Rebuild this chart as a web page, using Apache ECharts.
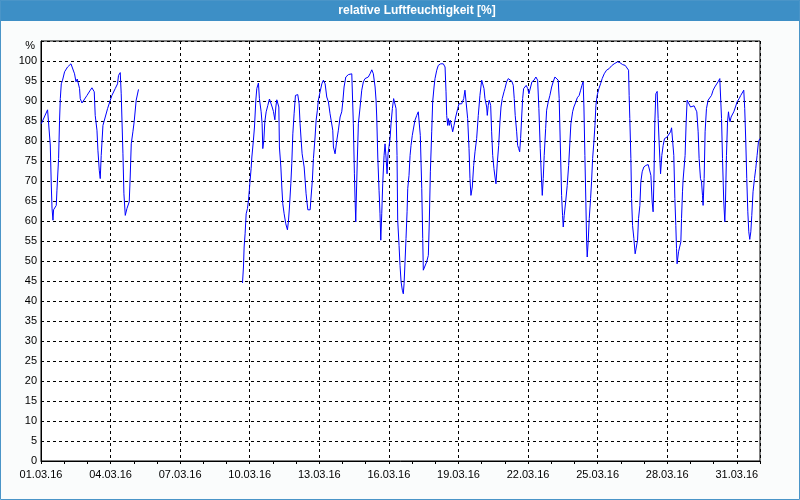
<!DOCTYPE html>
<html><head><meta charset="utf-8">
<script src="https://cdn.jsdelivr.net/npm/echarts@6/dist/echarts.min.js"></script>
<style>html,body{margin:0;padding:0;background:#fafcfc;}#c{width:800px;height:500px;}</style>
</head><body><div id="c"></div>
<script>
const titleText = 'relative Luftfeuchtigkeit [%]';
const unitLabel = '%';
const monthSuffix = '.03.16';
// hours since 01.03.16 00:00
const hours = [
0.3,6.8,8.6,9.6,10.7,11.4,12.4,13.0,15.8,16.5,18.2,19.2,20.0,21.0,22.3,24.4,27.5,31.0,32.7,34.7,36.2,37.5,38.9,39.9,40.6,42.4,44.0,47.6,51.0,52.7,55.1,56.1,57.9,58.9,60.3,61.3,62.3,64.1,66.5,68.9,71.7,73.4,76.8,79.2,80.2,82.0,83.0,84.8,85.8,87.2,88.9,91.3,92.3,93.4,95.1,96.4,98.5,100.9,
150,
208.5,209.5,210.2,211.2,212.3,213.6,214.7,216.4,217.4,218.2,219.8,220.9,222.3,223.3,225.0,226.0,227.8,228.8,229.5,230.6,231.6,233.0,234.7,236.4,238.4,239.2,240.5,242.0,243.0,244.0,245.1,246.1,246.7,248.2,249.2,250.2,251.6,253.3,255.0,256.0,257.1,258.5,259.5,260.6,261.9,263.3,265.7,267.1,268.1,269.2,270.2,272.3,273.3,274.3,276.1,278.5,279.2,280.8,281.9,283.6,284.7,286.0,287.0,288.8,290.6,292.2,294.0,295.7,297.4,299.1,300.2,301.9,302.6,304.3,306.1,307.7,309.5,311.2,312.3,313.6,315.4,318.1,321.6,322.6,323.2,324.3,325.0,325.7,326.3,327.4,328.4,330.2,331.9,333.6,335.3,337.1,338.7,340.5,342.3,343.9,345.7,346.7,347.4,348.5,349.8,350.8,351.6,352.6,353.6,355.0,356.0,357.0,358.1,359.1,360.1,361.2,362.2,363.6,364.9,366.3,367.4,368.4,369.1,370.5,371.5,372.6,373.9,374.9,375.7,376.7,377.7,378.8,379.5,380.8,381.9,382.9,384.2,385.7,387.0,388.8,390.4,391.5,392.5,394.0,395.0,395.6,397.4,399.1,400.8,401.8,402.9,404.3,405.3,406.7,407.7,409.5,411.1,413.6,416.3,418.1,419.1,419.8,420.8,421.5,422.5,423.5,425.0,426.0,427.4,429.1,431.2,432.5,435.3,437.4,438.7,440.5,441.5,442.9,443.9,444.9,446.3,447.7,449.1,450.8,452.5,454.2,456.0,457.0,458.4,459.4,461.2,461.8,462.8,463.8,465.3,466.3,467.4,468.7,469.8,470.8,472.1,473.6,474.9,476.0,477.3,479.1,480.1,481.8,483.5,485.3,487.3,488.7,489.7,490.7,492.2,493.2,494.3,495.3,496.3,497.4,498.4,499.4,500.8,502.1,503.6,504.9,506.7,508.0,510.1,512.1,513.9,515.2,516.6,518.0,518.7,519.7,520.7,522.2,523.2,524.9,526.6,528.4,530.0,531.8,533.5,535.2,536.2,537.3,538.7,539.7,540.4,541.4,542.9,544.5,546.0,547.3,548.3,550.1,551.4,553.5,554.9,556.9,558.4,559.7,561.0,561.8,562.8,563.8,564.6,565.2,566.2,567.3,568.7,569.7,570.8,572.1,573.2,574.2,575.5,577.3,579.0,580.7,582.8,585.2,587.9,590.4,593.1,596.6,599.0,601.8,604.5,606.5,608.0,608.6,609.3,610.4,611.1,612.1,613.5,614.8,616.3,617.3,618.3,619.7,620.7,622.1,623.8,625.9,628.3,630.0,631.1,632.4,633.4,634.2,635.2,636.2,637.6,638.6,639.6,641.1,642.4,643.8,645.2,646.6,647.9,649.7,651.4,652.5,654.1,654.8,655.9,656.9,657.6,658.2,659.7,661.0,662.1,662.8,663.8,664.4,665.5,666.5,667.6,668.6,670.3,672.1,673.8,675.8,677.6,678.6,680.0,681.0,682.4,683.5,684.5,685.1,686.2,687.2,688.6,690.3,692.1,693.8,695.5,697.2,699.0,700.6,702.4,703.4,704.2,705.2,706.5,707.6,708.3,709.3,710.4,711.4,712.0,713.0,714.1,715.5,716.9,718.6,720.3,722.4,724.1,725.9,727.2,728.2,729.3,730.3,731.4,732.4,733.4,734.5,735.5,736.8,738.3,739.6,741.0,742.4,743.8
];
const humidity = [
84.3,87.8,87.3,79,68.5,63.2,60.2,62.8,63.9,67.7,75.6,85.2,90.6,94.3,95.2,97.3,98.5,99.3,99.2,96.8,94.8,95.5,95.8,93.1,90.6,89.5,89.9,91.4,92.7,93.3,92.3,86.4,82.7,77.7,72.7,70.6,76.4,83.9,86,88.1,90.2,91.4,93.1,94.3,96.4,97.1,91.8,76.8,66.8,61.4,63.1,64.8,71,79.3,82.3,84.8,90.2,92.9,
null,
44.5,48.5,53.5,56.8,61.8,63.1,65.2,70.2,73.1,76,80.2,83.5,90.2,93.1,94.5,90.6,87.3,84.3,78.1,80.2,84.8,87.3,88.9,90.5,90.5,88.5,87.4,85.3,88.5,90.3,90.3,88.5,78.5,73.5,68.5,64.3,61.8,59.3,57.8,59.8,63.5,69.3,74.3,81.8,86.8,91.4,91.6,89.3,84.3,80.2,76.8,73.5,70.2,66.8,62.8,62.8,65.2,70.2,75.6,81,85.2,87.7,90.2,92.3,94.3,95.2,94.3,91,89.8,86.8,85.2,82.7,78.5,76.8,80.2,82.7,86,87.3,89.8,93.5,96,96.6,96.8,96.8,84.3,71.8,65.2,59.8,66,76,84.3,88.5,92.7,94.8,95.6,95.6,96,96.8,97.8,96.8,93.5,90.2,86,76,67.7,61.8,55.2,61.8,69.3,76.4,79.3,76,71.8,76.8,77.3,80.6,84.3,88.1,90.6,90.2,88.1,76.4,60.2,53.9,48.9,44.8,42.7,41.8,44.3,49.8,55.6,62.3,68.1,71.4,76.4,78.9,81.4,83.5,85.2,86.4,87.3,87.7,81.4,68.1,55.6,47.7,48.1,49.8,51.4,59.8,72.3,82.3,89.8,93.5,95.6,97.7,98.9,99.3,99.3,98.5,92.3,86.4,83.9,85.6,83.9,85.2,83.5,82.3,83.9,86,88.1,89.3,89.3,90.6,92.7,92.7,85.6,78.1,70.6,66.4,68.5,73.9,77.3,80.6,86.4,91.4,95.2,94.8,93.1,90.6,88.5,86.4,88.9,90.2,88.9,82.3,76.4,73.1,71,69.3,74.3,78.9,84.8,88.5,90.6,92.3,93.1,94.8,95.6,95.2,94.9,93.9,90.6,86.4,82.3,78.9,78.1,77.3,80.6,86,90.6,93.1,93.1,93.9,93.1,91.8,92.3,94.8,95.2,96,95.2,88.1,78.1,69.8,66.4,70.6,76.4,83.1,87.7,89.8,91.4,93.5,94.8,96,96.3,95.2,90.6,79.8,66.4,61.4,58.5,61.4,64.8,68.9,73.9,79.8,84.3,87.3,88.5,89.8,90.8,91.4,92.7,93.9,94.8,88.5,76.4,64.8,54.8,51,54.8,60.6,65.6,69.8,75.6,79.8,83.9,88.9,91.4,93.1,94.3,95.6,96.8,97.7,98.1,98.8,99.3,99.8,99.6,99.1,98.9,98.5,97.7,91.4,85.6,75.6,65.6,58.9,55.6,51.8,52.3,55.2,60.6,63.9,69.8,72.3,73.5,73.9,74.1,74.3,71.4,64.8,62.3,69.8,84.8,91.8,92.4,85.6,79.8,71.8,76.4,78.9,80.6,81,81,80.8,82.3,83.3,83.1,76.4,65.6,58.9,53.1,49.3,52.3,51.8,54.8,60.6,67.3,70.2,69.8,76.4,84.8,90.2,90.6,88.5,88.9,88.8,89.3,87.3,82.3,75.6,70.6,69.8,66.4,63.9,70.6,82.3,88.1,90.2,90.6,91.4,92.7,93.5,93.9,94.8,95.6,96,85.6,75.6,64.8,59.8,64.8,76.4,84.8,87.3,86,84.8,86,85.6,87.3,88.5,89.8,90.6,91.4,91.8,92.7,88.1,79.8,70.6,62.3,57.3,55.4,57.3,61.4,67.3,70.6,73.1,76.4,79.8,80.6
];

const seriesData = hours.map((h, i) => [h, humidity[i] === null ? '-' : humidity[i]]);
const FONT = 'Liberation Sans';

const chart = echarts.init(document.getElementById('c'), null, {renderer: 'canvas'});
chart.setOption({
  animation: false,
  backgroundColor: '#fafcfc',
  graphic: [
    {type: 'rect', shape: {x: 0, y: 0, width: 800, height: 21}, style: {fill: '#3d8fc6'}, z: 0},
    {type: 'rect', shape: {x: 0.5, y: 0.5, width: 799, height: 499}, style: {fill: null, stroke: '#4a95c8', lineWidth: 1}, z: 0},
    {type: 'text', x: 417, y: 11, style: {text: titleText, fill: '#ffffff', font: 'bold 12px "Liberation Sans"', textAlign: 'center', textVerticalAlign: 'middle'}, z: 10}
  ],
  grid: {left: 41, right: 40, top: 41, bottom: 39, show: true, backgroundColor: '#ffffff', borderColor: '#000000', borderWidth: 1},
  xAxis: {
    type: 'value', min: 0, max: 744, interval: 72,
    axisLine: {show: true, lineStyle: {color: '#000', width: 1}},
    axisTick: {show: true, inside: false, length: 3, lineStyle: {color: '#000'}},
    minorTick: {show: true, splitNumber: 3, length: 3, lineStyle: {color: '#000'}},
    splitLine: {show: true, lineStyle: {color: '#000', type: [3, 3], width: 1}},
    axisLabel: {
      margin: 8, color: '#000', fontFamily: FONT, fontSize: 11, showMaxLabel: false,
      formatter: v => {
        if (v % 72 !== 0 || v >= 744) return '';
        const d = v / 24 + 1;
        return (d < 10 ? '0' : '') + d + monthSuffix;
      }
    }
  },
  yAxis: {
    type: 'value', min: 0, max: 105, interval: 5,
    axisLine: {show: true, lineStyle: {color: '#000', width: 1}},
    axisTick: {show: false},
    splitLine: {show: true, lineStyle: {color: '#000', type: [3, 3], width: 1}},
    axisLabel: {
      margin: 4, color: '#000', fontFamily: FONT, fontSize: 11,
      formatter: v => v === 105 ? '{p|' + unitLabel + '}' : String(v),
      rich: {p: {fontFamily: FONT, fontSize: 11, color: '#000', padding: [10, 2, 0, 0]}}
    }
  },
  series: [{
    type: 'line', data: seriesData, showSymbol: false, connectNulls: false,
    lineStyle: {color: '#0000ff', width: 1}, itemStyle: {color: '#0000ff'}
  }]
});
</script></body></html>
